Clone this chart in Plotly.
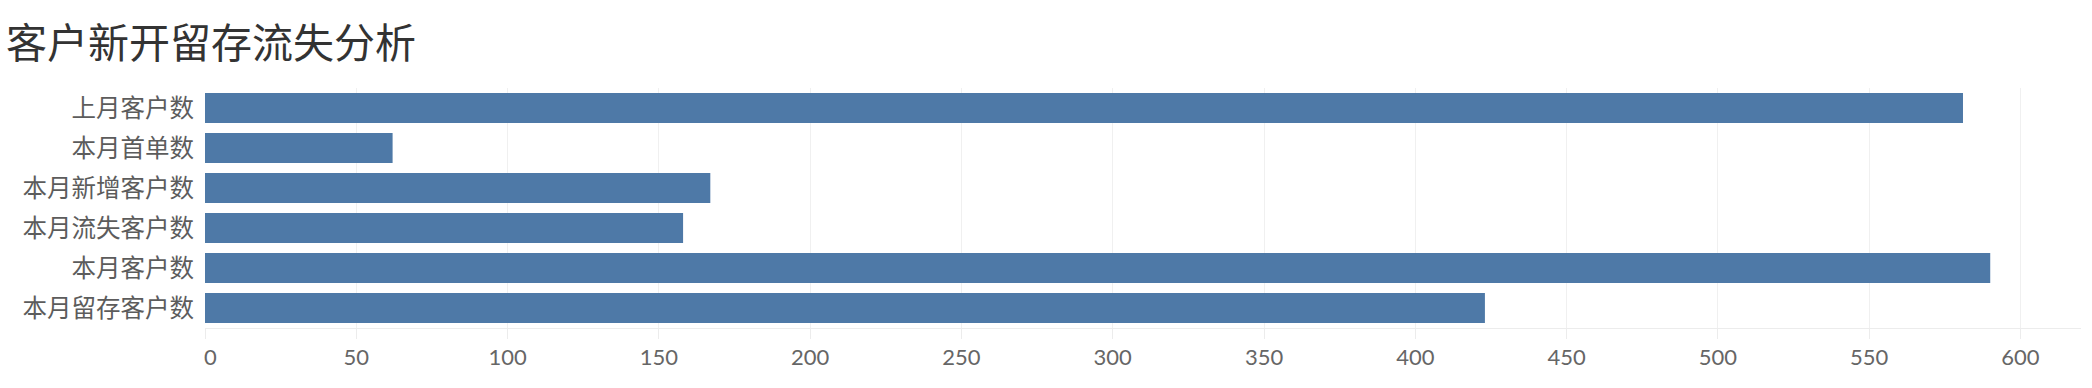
import plotly.graph_objects as go

categories = ["上月客户数", "本月首单数", "本月新增客户数", "本月流失客户数", "本月客户数", "本月留存客户数"]
values = [581, 62, 167, 158, 590, 423]
x_ticks = [0, 50, 100, 150, 200, 250, 300, 350, 400, 450, 500, 550, 600]
title_text = "客户新开留存流失分析"

W, H = 2092, 388
fig = go.Figure(go.Bar(
    x=values, y=categories, orientation="h",
    marker=dict(color="#4e79a7", line=dict(width=0)),
    hoverinfo="x+y",
))

tick_text = [("\u2002" + str(v)) if v == 0 else str(v) for v in x_ticks]

fig.update_layout(
    width=W, height=H,
    margin=dict(l=205, r=11, t=88, b=60, pad=0),
    paper_bgcolor="white", plot_bgcolor="white",
    bargap=0.25,
    showlegend=False,
    title=dict(text=title_text, x=6 / W, xanchor="left", y=1 - 44 / H, yanchor="middle",
               font=dict(family="Noto Sans CJK SC", size=41, color="#333333")),
    xaxis=dict(range=[0, 620], tickvals=x_ticks, ticktext=tick_text,
               showgrid=True, gridcolor="#f0f0f0", gridwidth=1,
               zeroline=False, showline=True, linecolor="#ececec", linewidth=1,
               ticks="outside", ticklen=10, tickcolor="#ececec",
               tickfont=dict(family="Lato", size=22, color="#666666")),
    yaxis=dict(categoryorder="array", categoryarray=categories, autorange="reversed",
               showgrid=False, zeroline=False, showline=False, ticks="",
               ticklabelstandoff=10,
               tickfont=dict(family="Noto Sans CJK SC", size=24.5, color="#5c5c5c")),
)

fig.write_html("out.html")
